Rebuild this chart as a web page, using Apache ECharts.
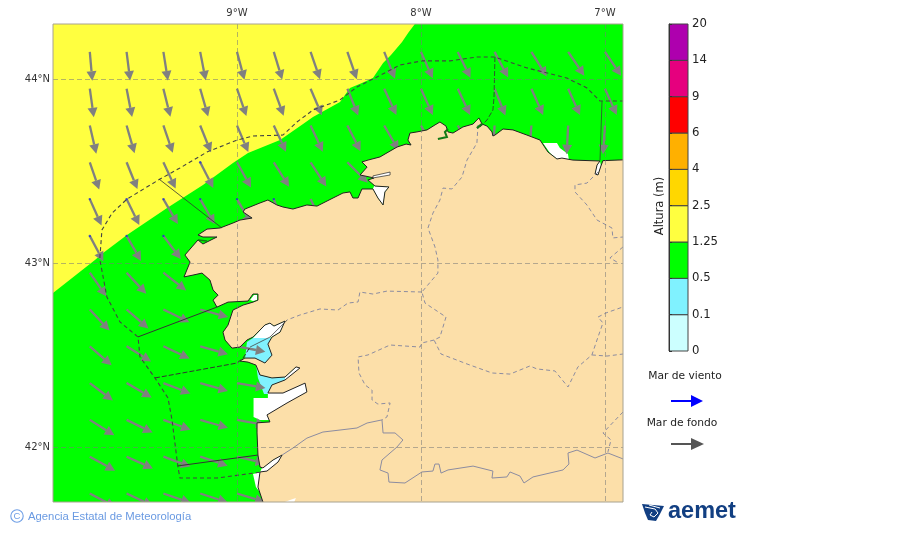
<!DOCTYPE html>
<html><head><meta charset="utf-8">
<style>html,body{margin:0;padding:0;background:#fff}#c{width:900px;height:533px}</style>
<script src="https://cdn.jsdelivr.net/npm/echarts@6/dist/echarts.min.js"></script>
</head><body><div id="c"></div>
<script>
// ---- axis ticks
const lonTicks = [-9, -8, -7];
const latTicks = [42, 43, 44];
// ---- colour bar
const colorbarTicks = ['0','0.1','0.5','1.25','2.5','4','6','9','14','20'];
const colorbarColors = ['#CCFFFF','#80F2FF','#00FF00','#FFFF40','#FFD700','#FFB000','#FF0000','#E6007E','#AE00AE'];
// ---- swell arrows: tail lat per row, tail lon per column, bearing (deg clockwise from N) per cell
const arrowLats = [44.15,43.95,43.75,43.55,43.35,43.15,42.95,42.75,42.55,42.35,42.15,41.95,41.75];
const arrowLons = [-9.8,-9.6,-9.4,-9.2,-9.0,-8.8,-8.6,-8.4,-8.2,-8.0,-7.8,-7.6,-7.4,-7.2,-7.0];
const arrowBearings = [
 [175,173,171,169,165,163,161,161,158,156,154,152,148,146,146],
 [172,169,166,164,161,160,157,158,155,156,155,158,156,156,156],
 [167,164,161,158,157,155,155,153,150,150,150,183,184,183,184],
 [161,158,155,153,151,148,147,135,null,null,null,null,null,null,null],
 [156,154,150,150,150,160,155,null,null,null,null,null,null,null,null],
 [152,150,143,null,null,null,null,null,null,null,null,null,null,null,null],
 [145,137,128,null,null,null,null,null,null,null,null,null,null,null,null],
 [137,131,116,105,null,null,null,null,null,null,null,null,null,null,null],
 [131,122,115,106,101,null,null,null,null,null,null,null,null,null,null],
 [127,120,111,106,100,null,null,null,null,null,null,null,null,null,null],
 [122,116,110,106,100,null,null,null,null,null,null,null,null,null,null],
 [119,114,110,108,103,null,null,null,null,null,null,null,null,null,null],
 [118,115,109,108,107,null,null,null,null,null,null,null,null,null,null]
];
const arrowLength = 0.157;
// ---- small wind-sea marks
const windSea = [[-9.2,43.55],[-9.8,43.35],[-9.6,43.35],[-9.4,43.35],[-9.2,43.35],[-9.0,43.35],[-8.8,43.35],[-9.8,43.15],[-9.6,43.15],[-9.4,43.15]];
// ---- height areas
const yellowArea = [[-10.05,44.35],[-8.02,44.35],[-8.033,44.302],[-8.070,44.253],[-8.103,44.204],[-8.163,44.133],[-8.206,44.090],[-8.261,44.008],[-8.321,43.981],[-8.386,43.954],[-8.440,43.878],[-8.587,43.796],[-8.641,43.758],[-8.766,43.671],[-8.940,43.601],[-9.022,43.546],[-9.185,43.427],[-9.380,43.302],[-9.598,43.155],[-9.728,43.057],[-9.772,43.019],[-10.0,42.840],[-10.05,42.81]];
const blueArousa = [[-8.946,42.573],[-8.913,42.595],[-8.810,42.595],[-8.821,42.557],[-8.799,42.502],[-8.848,42.448],[-8.902,42.475],[-8.957,42.475]];
const bluePontevedra = [[-8.897,42.454],[-8.875,42.394],[-8.810,42.378],[-8.739,42.383],[-8.739,42.361],[-8.810,42.334],[-8.832,42.291],[-8.853,42.291],[-8.886,42.378]];
const whiteVigo = [[-8.910,42.269],[-8.832,42.269],[-8.832,42.302],[-8.750,42.302],[-8.625,42.356],[-8.614,42.302],[-8.728,42.236],[-8.832,42.171],[-8.821,42.150],[-8.875,42.150],[-8.910,42.166]];
const whiteGuarda = [[-8.913,41.856],[-8.864,41.867],[-8.864,41.742],[-8.897,41.785]];
const whiteViveiro = [[-7.337,43.655],[-7.261,43.655],[-7.245,43.628],[-7.201,43.595],[-7.196,43.562],[-7.255,43.562],[-7.299,43.601]];
const whiteMino = [[-8.875,41.867],[-8.864,41.889],[-8.804,41.932],[-8.750,41.964],[-8.777,41.916],[-8.837,41.867]];
const whiteMuros = [[-8.929,42.801],[-8.908,42.829],[-8.891,42.829],[-8.891,42.801],[-8.913,42.796]];
const whiteArousa = [[-8.913,42.595],[-8.848,42.666],[-8.821,42.676],[-8.799,42.660],[-8.739,42.687],[-8.766,42.627],[-8.821,42.595]];
const whitePontevedra = [[-8.739,42.383],[-8.674,42.443],[-8.652,42.432],[-8.739,42.361]];
const whiteFerrol = [[-8.255,43.421],[-8.174,43.416],[-8.196,43.389],[-8.206,43.318],[-8.234,43.356],[-8.261,43.405]];
const whiteRibadeo = [[-7.027,43.557],[-7.022,43.530],[-7.038,43.481],[-7.054,43.486],[-7.043,43.535]];
const whiteOrtigueira = [[-8.261,43.476],[-8.168,43.497],[-8.168,43.481],[-8.261,43.465]];
const whiteBottom = [[-8.75,41.70],[-8.712,41.715],[-8.68,41.726],[-8.69,41.70]];
// ---- land outline (lon, lat)
const landRing = [[-6.7,43.571],[-7.011,43.559],[-7.022,43.530],[-7.038,43.481],[-7.054,43.486],[-7.043,43.535],[-7.027,43.557],[-7.174,43.562],[-7.234,43.573],[-7.261,43.568],[-7.310,43.606],[-7.353,43.671],[-7.424,43.698],[-7.500,43.726],[-7.554,43.731],[-7.598,43.698],[-7.609,43.693],[-7.614,43.715],[-7.641,43.747],[-7.668,43.758],[-7.685,43.791],[-7.696,43.780],[-7.717,43.758],[-7.772,43.742],[-7.826,43.709],[-7.853,43.715],[-7.864,43.747],[-7.897,43.769],[-7.924,43.753],[-7.967,43.726],[-8.022,43.715],[-8.060,43.709],[-8.071,43.671],[-8.054,43.644],[-8.081,43.649],[-8.130,43.633],[-8.223,43.579],[-8.288,43.562],[-8.321,43.552],[-8.293,43.524],[-8.331,43.481],[-8.255,43.465],[-8.288,43.454],[-8.250,43.421],[-8.174,43.416],[-8.196,43.389],[-8.206,43.318],[-8.234,43.356],[-8.261,43.405],[-8.321,43.405],[-8.342,43.356],[-8.370,43.356],[-8.386,43.389],[-8.424,43.383],[-8.478,43.356],[-8.565,43.312],[-8.620,43.318],[-8.696,43.296],[-8.750,43.307],[-8.783,43.318],[-8.832,43.345],[-8.875,43.329],[-8.957,43.296],[-8.967,43.280],[-8.918,43.247],[-8.984,43.236],[-9.022,43.220],[-9.092,43.193],[-9.163,43.187],[-9.212,43.155],[-9.185,43.144],[-9.109,43.144],[-9.163,43.117],[-9.185,43.106],[-9.212,43.128],[-9.245,43.090],[-9.283,43.046],[-9.255,43.008],[-9.288,42.927],[-9.239,42.937],[-9.190,42.948],[-9.147,42.910],[-9.130,42.856],[-9.103,42.828],[-9.130,42.801],[-9.109,42.763],[-9.049,42.790],[-8.940,42.796],[-8.913,42.834],[-8.886,42.834],[-8.886,42.801],[-8.913,42.790],[-8.967,42.774],[-9.022,42.747],[-9.049,42.665],[-9.076,42.627],[-9.065,42.584],[-9.027,42.540],[-8.984,42.546],[-8.946,42.584],[-8.913,42.600],[-8.891,42.622],[-8.848,42.666],[-8.821,42.676],[-8.799,42.660],[-8.739,42.687],[-8.766,42.627],[-8.810,42.600],[-8.832,42.562],[-8.810,42.502],[-8.848,42.459],[-8.902,42.486],[-8.957,42.486],[-8.984,42.470],[-8.940,42.464],[-8.897,42.448],[-8.875,42.394],[-8.810,42.378],[-8.739,42.383],[-8.679,42.438],[-8.658,42.432],[-8.739,42.367],[-8.810,42.340],[-8.832,42.296],[-8.750,42.296],[-8.630,42.350],[-8.620,42.302],[-8.728,42.242],[-8.837,42.177],[-8.821,42.139],[-8.891,42.134],[-8.891,42.079],[-8.886,41.959],[-8.875,41.894],[-8.859,41.889],[-8.804,41.932],[-8.755,41.959],[-8.777,41.921],[-8.837,41.872],[-8.875,41.867],[-8.886,41.785],[-8.859,41.704],[-8.848,41.633],[-6.7,41.633]];
// ---- maritime zone limits
const zoneOuter = [[-6.897,43.883],[-7.027,43.883],[-7.098,43.954],[-7.207,44.008],[-7.424,44.063],[-7.598,44.122],[-7.696,44.122],[-7.842,44.101],[-7.995,44.101],[-8.114,44.079],[-8.239,44.014],[-8.348,43.959],[-8.440,43.889],[-8.587,43.834],[-8.674,43.769],[-8.750,43.698],[-8.913,43.693],[-9.0,43.671],[-9.163,43.606],[-9.310,43.519],[-9.418,43.459],[-9.598,43.350],[-9.679,43.274],[-9.734,43.182],[-9.745,43.035],[-9.745,43.019],[-9.707,42.818],[-9.636,42.682],[-9.538,42.601],[-9.527,42.492],[-9.446,42.378],[-9.375,42.269],[-9.353,42.149],[-9.321,41.894],[-9.310,41.834],[-9.109,41.834],[-8.864,41.867]];
const zoneFisterra = [[-9.424,43.459],[-9.082,43.193]];
const zoneCoruna = [[-9.538,42.601],[-9.109,42.763]];
const zoneRias = [[-9.446,42.378],[-9.0,42.459],[-8.967,42.486],[-8.929,42.546]];
const zoneRiasInner = [[-8.929,42.546],[-8.821,42.600],[-8.728,42.692]];
const zoneMino = [[-9.321,41.900],[-8.886,41.959]];
const zoneCantabrico = [[-7.598,44.122],[-7.603,43.905],[-7.609,43.834],[-7.641,43.780],[-7.679,43.742]];
const zoneEast = [[-7.016,43.883],[-7.027,43.562]];
// ---- dark inlets
const inletA = [[-7.908,43.677],[-7.859,43.687],[-7.870,43.715],[-7.853,43.731]];
const inletB = [[-7.696,43.736],[-7.668,43.758]];
const inletC = [[-9.212,43.128],[-9.163,43.122]];
// ---- internal borders
const border1 = [[-7.690,43.753],[-7.696,43.655],[-7.750,43.562],[-7.777,43.470],[-7.832,43.405],[-7.880,43.410],[-7.897,43.345],[-7.935,43.274],[-7.962,43.193],[-7.924,43.090],[-7.908,43.019],[-7.908,42.948],[-7.995,42.845],[-7.978,42.785],[-7.864,42.709],[-7.897,42.600],[-7.929,42.584],[-7.891,42.508],[-7.750,42.454],[-7.614,42.405],[-7.516,42.399],[-7.408,42.443],[-7.370,42.427],[-7.272,42.416],[-7.201,42.329],[-7.147,42.438],[-7.071,42.503],[-7.038,42.600],[-7.011,42.677],[-7.038,42.709],[-6.995,42.731],[-6.902,42.764]];
const border2 = [[-7.995,42.845],[-8.185,42.850],[-8.261,42.834],[-8.332,42.845],[-8.342,42.791],[-8.397,42.785],[-8.451,42.747],[-8.549,42.753],[-8.658,42.720],[-8.728,42.693]];
const border3 = [[-7.929,42.584],[-7.995,42.568],[-8.005,42.546],[-8.168,42.557],[-8.288,42.503],[-8.342,42.492],[-8.337,42.405],[-8.304,42.340],[-8.266,42.312],[-8.266,42.258],[-8.234,42.236],[-8.168,42.242],[-8.185,42.166],[-8.212,42.150]];
const border4 = [[-7.071,42.503],[-6.989,42.497],[-6.902,42.508]];
const border5 = [[-6.902,42.193],[-7.011,42.079],[-6.967,42.041],[-6.984,41.976]];
const border6 = [[-7.038,43.497],[-7.098,43.437],[-7.163,43.427],[-7.163,43.389],[-7.098,43.318],[-7.043,43.236],[-6.962,43.193],[-6.957,43.139],[-6.902,43.144]];
const border7 = [[-6.902,43.090],[-6.973,43.030],[-6.935,43.008]];
const river = [[-8.755,41.959],[-8.696,41.997],[-8.620,42.051],[-8.533,42.084],[-8.440,42.095],[-8.348,42.106],[-8.293,42.133],[-8.212,42.150],[-8.206,42.079],[-8.141,42.079],[-8.098,42.041],[-8.130,42.003],[-8.212,41.932],[-8.223,41.878],[-8.179,41.861],[-8.174,41.812],[-8.087,41.807],[-7.995,41.867],[-7.935,41.872],[-7.924,41.910],[-7.902,41.910],[-7.891,41.861],[-7.853,41.878],[-7.717,41.899],[-7.609,41.872],[-7.614,41.834],[-7.533,41.840],[-7.516,41.867],[-7.462,41.845],[-7.440,41.807],[-7.391,41.840],[-7.228,41.878],[-7.196,41.910],[-7.201,41.970],[-7.152,41.986],[-7.054,41.943],[-6.984,41.970],[-6.902,41.938]];

// ---- drawing helpers
function poly(ring, fill, z, stroke, lw) {
  return {type:'custom', coordinateSystem:'cartesian2d', xAxisIndex:0, yAxisIndex:0, clip:true, silent:true, z:z,
    data:[ring[0]], renderItem:(p,api)=>({type:'polygon', shape:{points:ring.map(q=>api.coord(q))},
      style:{fill:fill, stroke:stroke||null, lineWidth:lw||0, lineJoin:'round'}})};
}
function line(path, color, width, dash, z) {
  return {type:'custom', coordinateSystem:'cartesian2d', xAxisIndex:0, yAxisIndex:0, clip:true, silent:true, z:z,
    data:[path[0]], renderItem:(p,api)=>({type:'polyline', shape:{points:path.map(q=>api.coord(q))},
      style:{fill:null, stroke:color, lineWidth:width, lineDash:dash||null}})};
}
const arrowData = [];
arrowLats.forEach((la,r)=>arrowLons.forEach((lo,c)=>{
  const b = arrowBearings[r][c];
  if (b !== null) arrowData.push([lo, la, b]);
}));
function headShape(t, h, col, len, halfW, sw) {
  const dx=h[0]-t[0], dy=h[1]-t[1], L=Math.hypot(dx,dy), ux=dx/L, uy=dy/L;
  const bx=h[0]-ux*len, by=h[1]-uy*len;
  return {type:'group', children:[
    {type:'line', shape:{x1:t[0],y1:t[1],x2:bx,y2:by}, style:{stroke:col, lineWidth:sw}},
    {type:'polygon', shape:{points:[h,[bx-uy*halfW,by+ux*halfW],[bx+uy*halfW,by-ux*halfW]]}, style:{fill:col}}
  ]};
}
const arrowSeries = {type:'custom', coordinateSystem:'cartesian2d', xAxisIndex:0, yAxisIndex:0, clip:true, silent:true, z:3,
  data:arrowData,
  renderItem:(p,api)=>{
    const lo=api.value(0), la=api.value(1), b=api.value(2)*Math.PI/180;
    const t=api.coord([lo,la]), h=api.coord([lo+arrowLength*Math.sin(b), la+arrowLength*Math.cos(b)]);
    return headShape(t,h,'#808080',9.5,5,2.3);
  }};
const windSeries = {type:'scatter', xAxisIndex:0, yAxisIndex:0, silent:true, z:4, symbolSize:2.4, itemStyle:{color:'#2030d0'}, data:windSea};
const colorbarSeries = {type:'custom', coordinateSystem:'cartesian2d', xAxisIndex:1, yAxisIndex:1, silent:true, z:3,
  data:colorbarColors.map((c,i)=>[i]),
  renderItem:(p,api)=>{
    const i=api.value(0), a=api.coord([0,i+1]), b=api.coord([1,i]);
    return {type:'rect', shape:{x:a[0],y:a[1],width:b[0]-a[0],height:b[1]-a[1]},
      style:{fill:colorbarColors[i], stroke:'#444', lineWidth:1}};
  }};

const font='"DejaVu Sans"';
const gridLine={show:true, lineStyle:{color:'rgba(120,120,120,0.55)', width:1, type:[5,3]}};
const option={
  animation:false,
  backgroundColor:'#fff',
  grid:[
    {left:53, top:24, width:570, height:478, show:false},
    {left:669, top:24, width:19, height:327, show:false}
  ],
  xAxis:[
    {type:'value', gridIndex:0, position:'top', min:-10, max:-6.902, z:10,
     axisLine:{show:false}, axisTick:{show:false, customValues:lonTicks},
     axisLabel:{customValues:lonTicks, fontFamily:font, fontSize:10, color:'#333', margin:6, formatter:v=>Math.abs(v)+'°W'},
     splitLine:gridLine},
    {type:'value', gridIndex:1, min:0, max:1, show:false}
  ],
  yAxis:[
    {type:'value', gridIndex:0, min:41.7038, max:44.3016, z:10,
     axisLine:{show:false}, axisTick:{show:false, customValues:latTicks},
     axisLabel:{customValues:latTicks, fontFamily:font, fontSize:10, color:'#333', margin:3, formatter:v=>v+'°N'},
     splitLine:gridLine},
    {type:'value', gridIndex:1, position:'right', min:0, max:9, interval:1, z:5,
     axisLine:{show:true, lineStyle:{color:'#333', width:1}},
     axisTick:{show:true, length:3, lineStyle:{color:'#333'}},
     axisLabel:{fontFamily:font, fontSize:11.7, color:'#222', margin:4, formatter:v=>colorbarTicks[v]},
     splitLine:{show:false}}
  ],
  series:[
    poly([[-10.1,44.4],[-6.8,44.4],[-6.8,41.6],[-10.1,41.6]],'#00FF00',1),
    poly(yellowArea,'#FFFF40',1.5),
    arrowSeries, windSeries,
    poly(blueArousa,'#80F2FF',2), poly(bluePontevedra,'#80F2FF',2),
    poly(whiteVigo,'#fff',2), poly(whiteGuarda,'#fff',2), poly(whiteViveiro,'#fff',2),
    poly(whiteMino,'#fff',2), poly(whiteMuros,'#fff',2), poly(whiteArousa,'#fff',2),
    poly(whitePontevedra,'#fff',2), poly(whiteFerrol,'#fff',2), poly(whiteRibadeo,'#fff',2),
    poly(landRing,'#FCDFA9',5,'#222',1),
    poly(whiteOrtigueira,'#fff',6,'#222',0.7), poly(whiteBottom,'#fff',6),
    line(border1,'#8c8ca0',1,[4,3],6), line(border2,'#8c8ca0',1,[4,3],6), line(border3,'#8c8ca0',1,[4,3],6),
    line(border4,'#8c8ca0',1,[4,3],6), line(border5,'#8c8ca0',1,[4,3],6), line(border6,'#8c8ca0',1,[4,3],6),
    line(border7,'#8c8ca0',1,[4,3],6), line(river,'#8c8ca0',1,null,6),
    line(inletA,'#137a13',2,null,6), line(inletB,'#137a13',2.4,null,6), line(inletC,'#137a13',1.6,null,6),
    line(zoneOuter,'#444',1.1,[4,3],7), line(zoneFisterra,'#333',0.8,null,7), line(zoneCoruna,'#333',1,null,7),
    line(zoneRias,'#333',1,[5,2],7), line(zoneRiasInner,'#444',0.8,null,7), line(zoneMino,'#333',1,null,7),
    line(zoneCantabrico,'#2a5a2a',1,[5,2],7), line(zoneEast,'#2a6a2a',1,null,7),
    colorbarSeries
  ],
  graphic:[
    {type:'rect', z:100, silent:true, shape:{x:53,y:24,width:570,height:478}, style:{fill:null, stroke:'#a8a290', lineWidth:1}},
    {type:'text', z:100, x:660, y:206, rotation:Math.PI/2, style:{text:'Altura (m)', fontFamily:font, fontSize:11.5, fill:'#222', align:'center', verticalAlign:'middle'}},
    {type:'text', z:100, x:685, y:376, style:{text:'Mar de viento', fontFamily:font, fontSize:10.7, fill:'#222', align:'center', verticalAlign:'middle'}},
    {type:'text', z:100, x:682, y:423, style:{text:'Mar de fondo', fontFamily:font, fontSize:10.7, fill:'#222', align:'center', verticalAlign:'middle'}},
    {type:'line', z:100, shape:{x1:671,y1:401,x2:692,y2:401}, style:{stroke:'#0000ff', lineWidth:2}},
    {type:'polygon', z:100, shape:{points:[[703,401],[691,395],[691,407]]}, style:{fill:'#0000ff'}},
    {type:'line', z:100, shape:{x1:671,y1:444,x2:692,y2:444}, style:{stroke:'#555', lineWidth:2}},
    {type:'polygon', z:100, shape:{points:[[704,444],[691,438],[691,450]]}, style:{fill:'#555'}},
    {type:'circle', z:100, shape:{cx:17,cy:516,r:6.2}, style:{fill:null, stroke:'#6f9fe6', lineWidth:1.1}},
    {type:'text', z:100, x:17, y:516, style:{text:'C', fontFamily:'"Liberation Sans"', fontSize:9.5, fill:'#6f9fe6', align:'center', verticalAlign:'middle'}},
    {type:'text', z:100, x:28, y:517, style:{text:'Agencia Estatal de Meteorología', fontFamily:'"Liberation Sans"', fontSize:11.3, fill:'#6a9ae2', verticalAlign:'middle'}},
    {type:'polygon', z:100, shape:{points:[[642,504],[664,506],[660,514],[656,521],[648,520],[645,513]]}, style:{fill:'#123f82'}},
    {type:'polyline', z:101, shape:{points:[[645,507],[655,509],[658,513],[654,517],[650,515],[652,512]]}, style:{fill:null, stroke:'#fff', lineWidth:1}},
    {type:'polyline', z:101, shape:{points:[[649,505],[660,508]]}, style:{fill:null, stroke:'#fff', lineWidth:1}},
    {type:'text', z:100, x:668, y:512, style:{text:'aemet', fontFamily:'"Liberation Sans"', fontWeight:'bold', fontSize:23.5, fill:'#123f82', verticalAlign:'middle'}}
  ]
};
echarts.init(document.getElementById('c')).setOption(option);
</script></body></html>
